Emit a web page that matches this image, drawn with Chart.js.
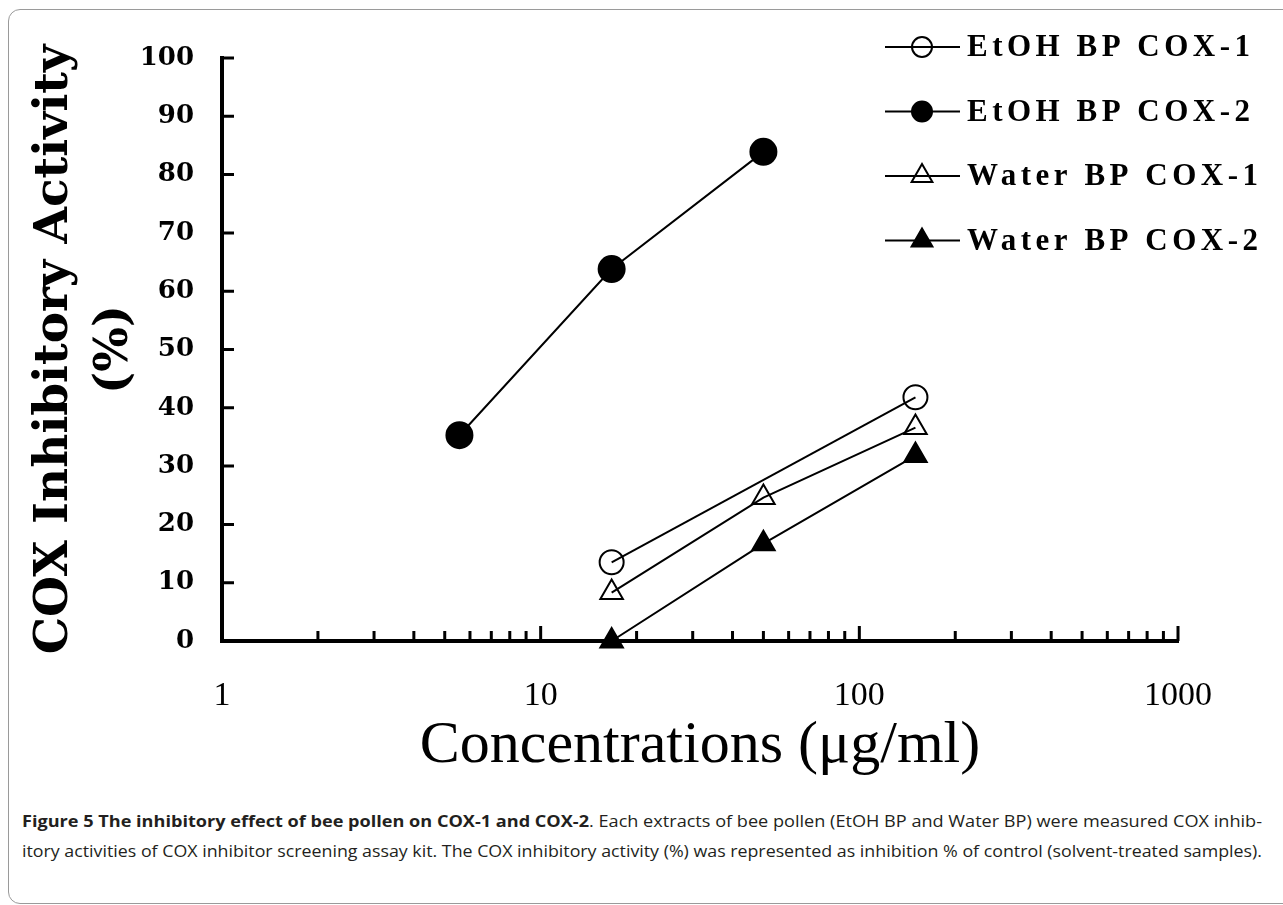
<!DOCTYPE html>
<html>
<head>
<meta charset="utf-8">
<script src="https://cdn.jsdelivr.net/npm/chart.js@4.4.1/dist/chart.umd.min.js"></script>
<style>
body { margin: 0; background: #fff; width: 1283px; height: 905px; overflow: hidden; position: relative; }
#frame { position: absolute; left: 8px; top: 9px; width: 1320px; height: 893px; border: 1px solid #9a9a9a; border-radius: 12px; }
#wrap { position: absolute; left: 0; top: 0; }
#caption { position: absolute; left: 22px; top: 806px; width: 1260px; font-family: "Open Sans"; font-size: 16px; color: #231f20; }
#caption div { height: 30px; line-height: 30px; }
#caption span { display: inline-block; white-space: nowrap; transform-origin: 0 50%; }
</style>
</head>
<body>
<div id="frame"></div>
<div id="wrap"><canvas id="chart" width="1283" height="790"></canvas></div>
<div id="caption">
  <div><span class="cap-line"><b>Figure 5 The inhibitory effect of bee pollen on COX-1 and COX-2</b>. Each extracts of bee pollen (EtOH BP and Water BP) were measured COX inhib-</span></div>
  <div><span class="cap-line">itory activities of COX inhibitor screening assay kit. The COX inhibitory activity (%) was represented as inhibition % of control (solvent-treated samples).</span></div>
</div>
<script>
// concentrations (ug/ml), three-fold dilutions
const concentrations = [5.56, 16.7, 50, 150];
// inhibitory activity (%) at each concentration, null = not measured
const etoh_cox1 = [null, 13.5, null, 41.8];
const etoh_cox2 = [35.3, 63.8, 83.9, null];
const water_cox1 = [null, 8.3, 24.6, 36.6];
const water_cox2 = [null, 0, 16.7, 31.8];

const series_names = ["EtOH BP COX-1", "EtOH BP COX-2", "Water BP COX-1", "Water BP COX-2"];
const x_labels = [1, 10, 100, 1000];
const y_min = 0, y_max = 100, y_step = 10;

// all log tick positions 1..1000 (labels only on decades)
let x_tick_values = [];
for (let d = 1; d < 1000; d *= 10) {
    for (let m = 1; m < 10; m++) x_tick_values.push(d * m);
}
x_tick_values.push(1000);

const to_points = (vals) => concentrations
    .map((c, i) => ({ x: c, y: vals[i] }))
    .filter(p => p.y !== null);

const make_set = (label, vals, style, filled) => ({
    label: label,
    data: to_points(vals),
    showLine: true,
    clip: false,
    borderColor: "#000",
    borderWidth: 2,
    pointStyle: style,
    pointRadius: style === "circle" ? (filled ? 13 : 12) : 13,
    pointBorderWidth: 2,
    pointBorderColor: "#000",
    pointBackgroundColor: filled ? "#000" : "rgba(0,0,0,0)",
});

// tick marks pointing into the plot
const inward_ticks = {
    id: "inward_ticks",
    beforeDatasetsDraw(chart) {
        const { ctx, chartArea: a, scales: { x, y } } = chart;
        ctx.save();
        ctx.strokeStyle = "#000";
        ctx.lineWidth = 3;
        ctx.beginPath();
        x.ticks.forEach(t => {
            if (t.value === 1) return;
            const px = x.getPixelForValue(t.value);
            const len = x_labels.includes(t.value) ? 15 : 10;
            ctx.moveTo(px, a.bottom);
            ctx.lineTo(px, a.bottom - len);
        });
        y.ticks.forEach(t => {
            if (t.value === 0) return;
            const py = y.getPixelForValue(t.value);
            ctx.moveTo(a.left, py);
            ctx.lineTo(a.left + 12, py);
        });
        ctx.stroke();
        ctx.restore();
    }
};

// legend: line with marker through it
const line_legend = {
    id: "line_legend",
    afterDraw(chart) {
        const ctx = chart.ctx;
        ctx.save();
        chart.data.datasets.forEach((ds, i) => {
            const y = 47 + 64.5 * i;
            ctx.strokeStyle = "#000";
            ctx.lineWidth = 2;
            ctx.beginPath();
            ctx.moveTo(885, y);
            ctx.lineTo(960, y);
            ctx.stroke();
            ctx.fillStyle = ds.pointBackgroundColor;
            ctx.strokeStyle = "#000";
            Chart.helpers.drawPoint(ctx, {
                pointStyle: ds.pointStyle,
                radius: ds.pointStyle === "circle" ? 10 : 12,
                borderWidth: 2,
                rotation: 0
            }, 922, y);
            ctx.fillStyle = "#000";
            ctx.font = 'bold 31px "Liberation Serif"';
            ctx.letterSpacing = "4.5px";
            ctx.textBaseline = "middle";
            ctx.textAlign = "left";
            ctx.fillText(ds.label, 967, y + 1);
        });
        ctx.restore();
    }
};

const ctx = document.getElementById("chart");
new Chart(ctx, {
    type: "scatter",
    data: {
        datasets: [
            make_set(series_names[0], etoh_cox1, "circle", false),
            make_set(series_names[1], etoh_cox2, "circle", true),
            make_set(series_names[2], water_cox1, "triangle", false),
            make_set(series_names[3], water_cox2, "triangle", true),
        ],
    },
    options: {
        responsive: false,
        animation: false,
        layout: { padding: { top: 58, right: 105, left: 0, bottom: 0 } },
        plugins: { legend: { display: false }, tooltip: { enabled: false } },
        scales: {
            x: {
                type: "logarithmic",
                min: 1,
                max: 1000,
                afterBuildTicks: (scale) => {
                    scale.ticks = x_tick_values.map(v => ({ value: v }));
                },
                afterFit: (scale) => { scale.height = 149; },
                grid: { display: false },
                border: { display: true, color: "#000", width: 4 },
                ticks: {
                    autoSkip: false,
                    maxRotation: 0,
                    padding: 27,
                    color: "#000",
                    font: { family: "Liberation Serif", size: 34 },
                    callback: (v) => x_labels.includes(v) ? String(v) : "",
                },
                title: {
                    display: true,
                    text: "Concentrations (μg/ml)",
                    color: "#000",
                    font: { family: "Liberation Serif", size: 60, lineHeight: 1.2 },
                    padding: { top: 0, bottom: 8 },
                },
            },
            y: {
                min: y_min,
                max: y_max,
                afterFit: (scale) => { scale.width = 222; },
                grid: { display: false },
                border: { display: true, color: "#000", width: 4 },
                ticks: {
                    stepSize: y_step,
                    padding: 20,
                    color: "#000",
                    font: { family: "DejaVu Serif", size: 26, weight: "bold" },
                },
                title: {
                    display: true,
                    text: ["COX Inhibitory Activity", "(%)"],
                    color: "#000",
                    font: { family: "DejaVu Serif", size: 47, weight: "bold", lineHeight: 1.28 },
                    padding: { top: 25, bottom: 0 },
                },
            },
        },
    },
    plugins: [inward_ticks, line_legend],
});

// stretch each caption line to the justified width
document.querySelectorAll(".cap-line").forEach(el => {
    const w = el.getBoundingClientRect().width;
    el.style.transform = "scaleX(" + (1240 / w) + ")";
});
</script>
</body>
</html>
